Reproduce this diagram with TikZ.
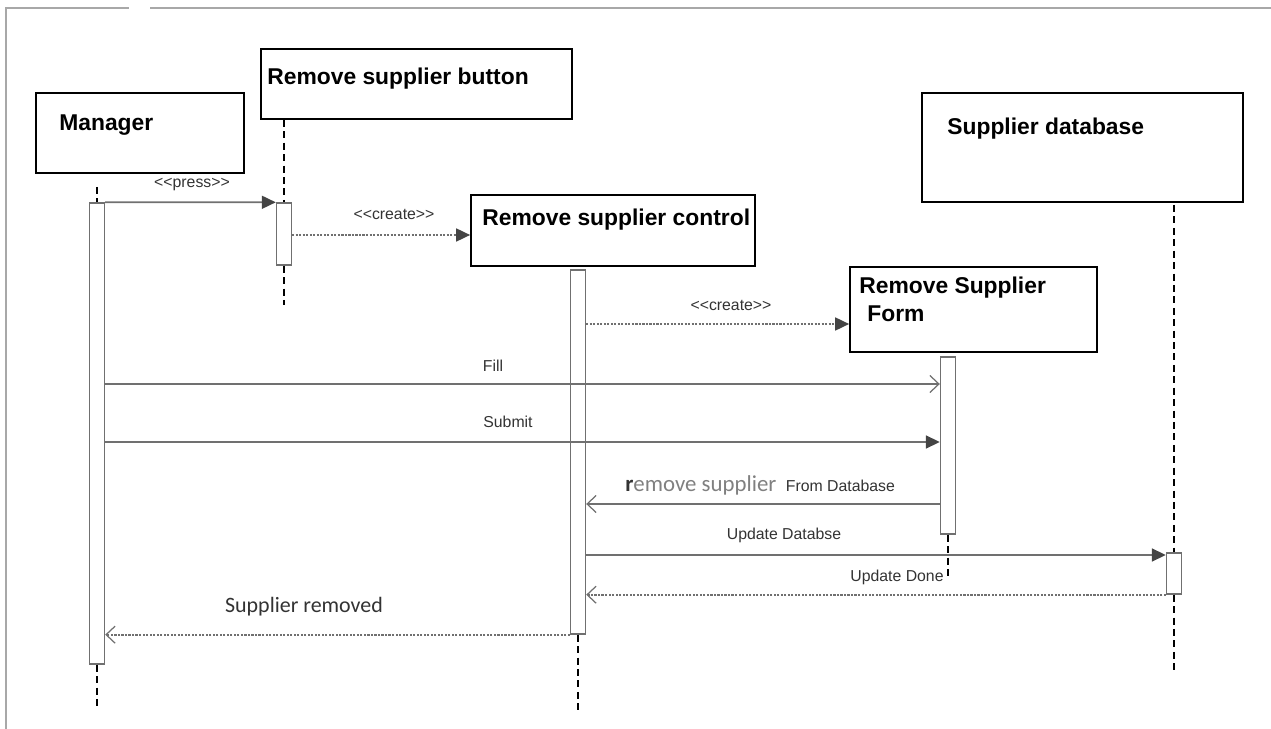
\documentclass[tikz,border=0pt]{standalone}
\usepackage{fontspec}
\setmainfont{Liberation Sans}
\newfontfamily\calibri{Carlito}
\usetikzlibrary{arrows.meta,positioning,calc}
\definecolor{msggray}{HTML}{707070}
\definecolor{headgray}{HTML}{444444}
\definecolor{txtgray}{HTML}{333333}
\definecolor{lightgray}{HTML}{808080}
\definecolor{framegray}{HTML}{A8A8A8}

\begin{document}
\begin{tikzpicture}[x=0.02cm,y=-0.02cm,>=Latex,
  obj/.style={draw,line width=1pt,inner sep=0pt},
  objname/.style={anchor=west,inner sep=0pt,align=left,font=\bfseries\fontsize{13}{15.9}\selectfont},
  bar/.style={draw=msggray,fill=white,line width=0.8pt,minimum width=0.3cm,inner sep=0pt},
  life/.style={line width=1pt,dash pattern=on 4pt off 2.5pt},
  msg/.style={draw=msggray,line width=1pt},
  ret/.style={msg,dash pattern=on 1.2pt off 0.8pt},
  fillhead/.style={-{Triangle[length=0.28cm,width=0.26cm,color=headgray]}},
  openhead/.style={-{Straight Barb[length=0.18cm,width=0.34cm,line width=0.7pt]}},
  msglbl/.style={inner sep=0pt,text=txtgray,font=\fontsize{9}{11}\selectfont}]
\useasboundingbox (0,0) rectangle (1271,729);
% frame
\draw[framegray,line width=1.5pt] (6,729) -- (6,8) -- (129,8);
\draw[framegray,line width=1.5pt] (150,8) -- (1271,8);

% objects
\node[obj,minimum width=4.16cm,minimum height=1.6cm] (manager) at (140,133) {};
\node[objname] (managername) at (59,125) {Manager};
\node[obj,minimum width=6.22cm,minimum height=1.4cm] (button) at (416.5,84) {};
\node[objname] (buttonname) at (267,79) {Remove supplier button};
\node[obj,minimum width=5.68cm,minimum height=1.42cm] (control) at (613,230.5) {};
\node[objname] (controlname) at (482,220) {Remove supplier control};
\node[obj,minimum width=4.94cm,minimum height=1.7cm] (form) at (973.5,309.5) {};
\node[objname] (formname) at (859,299) {Remove Supplier\\\hspace{0.35em}Form};
\node[obj,minimum width=6.42cm,minimum height=2.18cm] (database) at (1082.5,147.5) {};
\node[objname] (databasename) at (947,129) {Supplier database};

% activation bars
\node[bar,minimum height=9.22cm] (managerbar) at (97,433.5) {};
\node[bar,minimum height=1.24cm] (buttonbar) at (284,234) {};
\node[bar,minimum height=7.28cm] (controlbar) at (578,452) {};
\node[bar,minimum height=3.54cm] (formbar) at (948,445.5) {};
\node[bar,minimum height=0.82cm] (databasebar) at (1174,573.5) {};

% lifelines
\coordinate (managertop) at (97,187);
\coordinate (managerend) at (97,708);
\coordinate (buttonend) at (284,305);
\coordinate (controlend) at (578,713);
\coordinate (formend) at (948,578);
\coordinate (databasetop) at (1174,205);
\coordinate (databaseend) at (1174,670);
\draw[life] (managertop) -- (managerbar.north);
\draw[life] (managerbar.south) -- (managerend);
\draw[life] (buttonbar.north |- button.south) -- (buttonbar.north);
\draw[life] (buttonbar.south) -- (buttonend);
\draw[life] (controlbar.south) -- (controlend);
\draw[life] (formbar.south) -- (formend);
\draw[life] (databasetop) -- (databasebar.north);
\draw[life] (databasebar.south) -- (databaseend);

% messages
\draw[msg,fillhead] (managerbar.north east) -- (buttonbar.north west);
\node[msglbl] (press) at (192,185) {<{}<press>{}>};
\draw[ret,fillhead] (buttonbar.east |- 0,235) -- (control.west |- 0,235);
\node[msglbl] (create1) at (394,214) {<{}<create>{}>};
\draw[ret,fillhead] (controlbar.east |- 0,324) -- (form.west |- 0,324);
\node[msglbl] (create2) at (731,305) {<{}<create>{}>};
\draw[msg,openhead] (managerbar.east |- 0,384) -- (formbar.west |- 0,384);
\node[msglbl] (fill) at (493,366) {Fill};
\draw[msg,fillhead] (managerbar.east |- 0,442) -- (formbar.west |- 0,442);
\node[msglbl] (submit) at (508,422) {Submit};
\draw[msg,openhead] (formbar.west |- 0,504) -- (controlbar.east |- 0,504);
\node[msglbl,anchor=west] (removesup) at (625,485)
  {{\calibri\fontsize{13}{15}\selectfont\textbf{r}\textcolor{lightgray}{emove supplier}}\hspace{0.6em}From Database};
\draw[msg,fillhead] (controlbar.east |- 0,555) -- (databasebar.west |- 0,555);
\node[msglbl] (updatedb) at (784,535) {Update Databse};
\draw[ret,openhead] (databasebar.south west) -- (controlbar.east |- databasebar.south);
\node[msglbl] (updatedone) at (897,577) {Update Done};
\draw[ret,openhead] (controlbar.south west) -- (managerbar.east |- controlbar.south);
\node[msglbl,font=\calibri\fontsize{12.5}{15}\selectfont] (removed) at (304,607) {Supplier removed};
\end{tikzpicture}
\end{document}
